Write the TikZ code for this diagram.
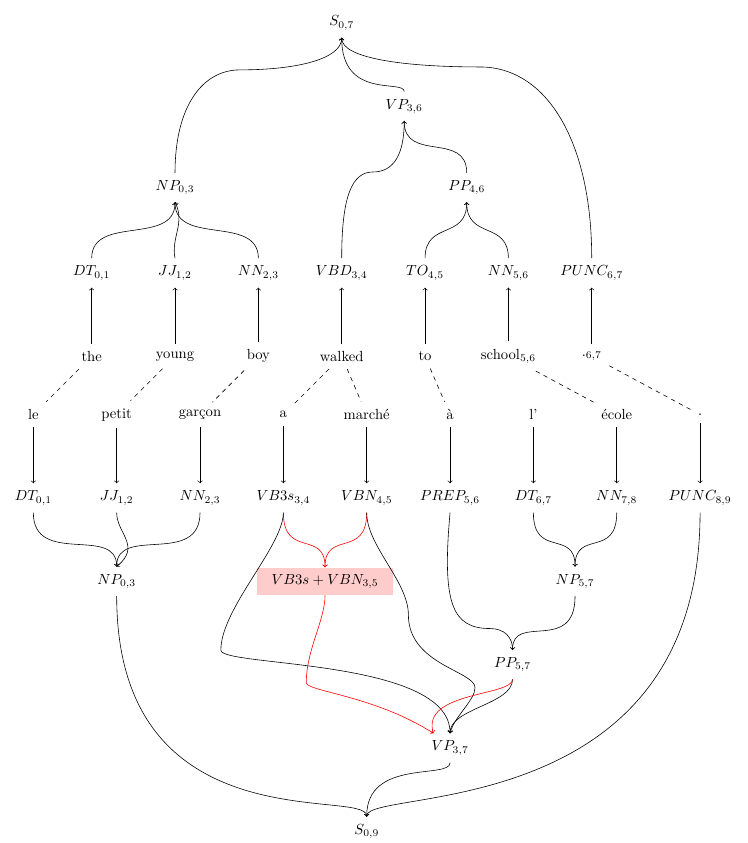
\documentclass[tikz,border=0pt]{standalone}
\usepackage{tikz}
\usetikzlibrary{calc,positioning,arrows}
\tikzstyle{arrow}     = [->]
\tikzstyle{redarrow}  = [->, red]
\tikzstyle{wordlink}  = [dashed]
\tikzstyle{merged}    = [fill=red!20, inner xsep=10pt, inner ysep=4.5pt]

\begin{document}
\begin{tikzpicture}[every node/.style={inner sep=5pt}]
		\useasboundingbox (0,0) rectangle (17.93,-20.23);

		\node (S07) at (8.2,-0.55) {$S_{0,7}$};
		\node (VP36) at (9.7,-2.55) {$VP_{3,6}$};
		\node (NP03) at (4.2,-4.5) {$NP_{0,3}$};
		\node (PP46) at (11.2,-4.5) {$PP_{4,6}$};

		\node (DT01) at (2.2,-6.55) {$DT_{0,1}$};
		\node (JJ12) at (4.2,-6.55) {$JJ_{1,2}$};
		\node (NN23) at (6.2,-6.55) {$NN_{2,3}$};
		\node (VBD34) at (8.2,-6.55) {$VBD_{3,4}$};
		\node (TO45) at (10.2,-6.55) {$TO_{4,5}$};
		\node (NN56) at (12.2,-6.55) {$NN_{5,6}$};
		\node (PUNC67) at (14.2,-6.55) {$PUNC_{6,7}$};

		\node (eThe) at (2.2,-8.55) {the};
		\node (eYoung) at (4.2,-8.55) {young};
		\node (eBoy) at (6.2,-8.55) {boy};
		\node (eWalked) at (8.2,-8.55) {walked};
		\node (eTo) at (10.2,-8.55) {to};
		\node (eSchool) at (12.2,-8.55) {school$_{5,6}$};
		\node (eDot) at (14.2,-8.55) {.$_{6,7}$};

		\node (fLe) at (0.8,-9.95) {le};
		\node (fPetit) at (2.8,-9.95) {petit};
		\node (fGarcon) at (4.8,-9.95) {garçon};
		\node (fA) at (6.8,-9.95) {a};
		\node (fMarche) at (8.8,-9.95) {marché};
		\node (fAgrave) at (10.8,-9.95) {à};
		\node (fL) at (12.8,-9.95) {l’};
		\node (fEcole) at (14.8,-9.95) {école};
		\node (fDot) at (16.8,-9.95) {.};

		\node (fDT01) at (0.8,-11.95) {$DT_{0,1}$};
		\node (fJJ12) at (2.8,-11.95) {$JJ_{1,2}$};
		\node (fNN23) at (4.8,-11.95) {$NN_{2,3}$};
		\node (fVB34) at (6.8,-11.95) {$VB3s_{3,4}$};
		\node (fVBN45) at (8.8,-11.95) {$VBN_{4,5}$};
		\node (fPREP56) at (10.8,-11.95) {$PREP_{5,6}$};
		\node (fDT67) at (12.8,-11.95) {$DT_{6,7}$};
		\node (fNN78) at (14.8,-11.95) {$NN_{7,8}$};
		\node (fPUNC89) at (16.8,-11.95) {$PUNC_{8,9}$};

		\node (fNP03) at (2.8,-13.95) {$NP_{0,3}$};
		\node[merged] (fVBVBN35) at (7.8,-13.95) {$VB3s+VBN_{3,5}$};
		\node (fNP57) at (13.8,-13.95) {$NP_{5,7}$};
		\node (fPP57) at (12.3,-15.95) {$PP_{5,7}$};
		\node (fVP37) at (10.8,-17.95) {$VP_{3,7}$};
		\node (fS09) at (8.8,-19.95) {$S_{0,9}$};

		\draw[arrow] (eThe) -- (DT01);
		\draw[arrow] (eYoung) -- (JJ12);
		\draw[arrow] (eBoy) -- (NN23);
		\draw[arrow] (eWalked) -- (VBD34);
		\draw[arrow] (eTo) -- (TO45);
		\draw[arrow] (eSchool) -- (NN56);
		\draw[arrow] (eDot) -- (PUNC67);

		\draw[arrow] (DT01.north) .. controls +(0,1.05) and +(0,-1.05) .. (NP03.south);
		\draw[arrow] (JJ12.north) .. controls +(-0.1,0.5) and +(0.25,-0.5) .. (NP03.south);
		\draw[arrow] (NN23.north) .. controls +(0,1.05) and +(0,-1.05) .. (NP03.south);
		\draw[arrow] (TO45.north) .. controls +(0,0.9) and +(0,-0.9) .. (PP46.south);
		\draw[arrow] (NN56.north) .. controls +(0,0.9) and +(0,-0.9) .. (PP46.south);
		\draw[arrow] (VBD34.north) .. controls +(0,1.5) and +(-0.5,0) .. ++(0.75,2.07) .. controls +(0.5,0) and +(0,-0.8) .. (VP36.south);
		\draw[arrow] (PP46.north) .. controls +(0,1.0) and +(0,-1.0) .. (VP36.south);
		\draw[arrow] (NP03.north) .. controls +(0,1.6) and +(-0.9,0) .. ++(1.56,2.47) .. controls +(1.4,0) and +(0,-0.5) .. (S07.south);
		\draw[arrow] (VP36.north) .. controls +(0,0.3) and +(0,-1.5) .. (S07.south);
		\draw[arrow] (PUNC67.north) .. controls +(0,2.8) and +(1.6,0) .. ++(-2.68,4.59) .. controls +(-1.8,0) and +(0,-0.5) .. (S07.south);

		\draw[wordlink] (eThe) -- (fLe);
		\draw[wordlink] (eYoung) -- (fPetit);
		\draw[wordlink] (eBoy) -- (fGarcon);
		\draw[wordlink] (eWalked) -- (fA);
		\draw[wordlink] (eWalked) -- (fMarche);
		\draw[wordlink] (eTo) -- (fAgrave);
		\draw[wordlink] (eSchool) -- (fEcole);
		\draw[wordlink] (eDot) -- (fDot);

		\draw[arrow] (fLe) -- (fDT01);
		\draw[arrow] (fPetit) -- (fJJ12);
		\draw[arrow] (fGarcon) -- (fNN23);
		\draw[arrow] (fA) -- (fVB34);
		\draw[arrow] (fMarche) -- (fVBN45);
		\draw[arrow] (fAgrave) -- (fPREP56);
		\draw[arrow] (fL) -- (fDT67);
		\draw[arrow] (fEcole) -- (fNN78);
		\draw[arrow] (fDot) -- (fPUNC89);

		\draw[arrow] (fDT01.south) .. controls +(0,-1.3) and +(0,1.0) .. (fNP03.north);
		\draw[arrow] (fJJ12.south) .. controls +(0,-0.5) and +(0.6,0.5) .. (fNP03.north);
		\draw[arrow] (fNN23.south) .. controls +(0,-1.3) and +(0,1.0) .. (fNP03.north);
		\draw[redarrow] (fVB34.south) .. controls +(0,-1.1) and +(0,0.9) .. (fVBVBN35.north);
		\draw[redarrow] (fVBN45.south) .. controls +(0,-1.1) and +(0,0.9) .. (fVBVBN35.north);
		\draw[arrow] (fDT67.south) .. controls +(0,-1.1) and +(0,0.9) .. (fNP57.north);
		\draw[arrow] (fNN78.south) .. controls +(0,-1.1) and +(0,0.9) .. (fNP57.north);
		\draw[arrow] (fPREP56.south) .. controls +(-0.2,-2.2) and +(-0.9,0) .. ++(0.96,-2.78) .. controls +(0.35,0) and +(0,0.3) .. (fPP57.north);
		\draw[arrow] (fNP57.south) .. controls +(0,-1.4) and +(0,0.9) .. (fPP57.north);

		\draw[arrow] (fVB34.south) .. controls +(0,-0.8) and +(0,1.0) .. ++(-1.5,-3.3) .. controls +(0,-0.4) and +(0,1.8) .. (fVP37.north);
		\draw[arrow] (fVBN45.south) .. controls +(0,-0.8) and +(0,0.8) .. ++(1.0,-2.45) .. controls +(0,-1.2) and +(0,0.4) .. ++(1.6,-1.75) .. controls +(0,-0.3) and +(0.1,0.4) .. (fVP37.north);
		\draw[arrow] (fPP57.south) .. controls +(0,-0.6) and +(0,0.6) .. (fVP37.north);
		\draw[redarrow] (fVBVBN35.south) .. controls +(0,-0.6) and +(0,0.8) .. ++(-0.45,-2.1) .. controls +(0,-0.2) and +(-1.4,0.9) .. ([xshift=-4mm]fVP37.north);
		\draw[redarrow] (fPP57.south) .. controls +(0,-0.4) and +(-0.3,1.0) .. ([xshift=-4mm]fVP37.north);

		\draw[arrow] (fNP03.south) .. controls +(0,-6) and +(0,0.7) .. (fS09.north);
		\draw[arrow] (fVP37.south) .. controls +(0,-0.4) and +(0,1.4) .. (fS09.north);
		\draw[arrow] (fPUNC89.south) .. controls +(0,-7.5) and +(0,0.7) .. (fS09.north);
	\end{tikzpicture}
\end{document}
